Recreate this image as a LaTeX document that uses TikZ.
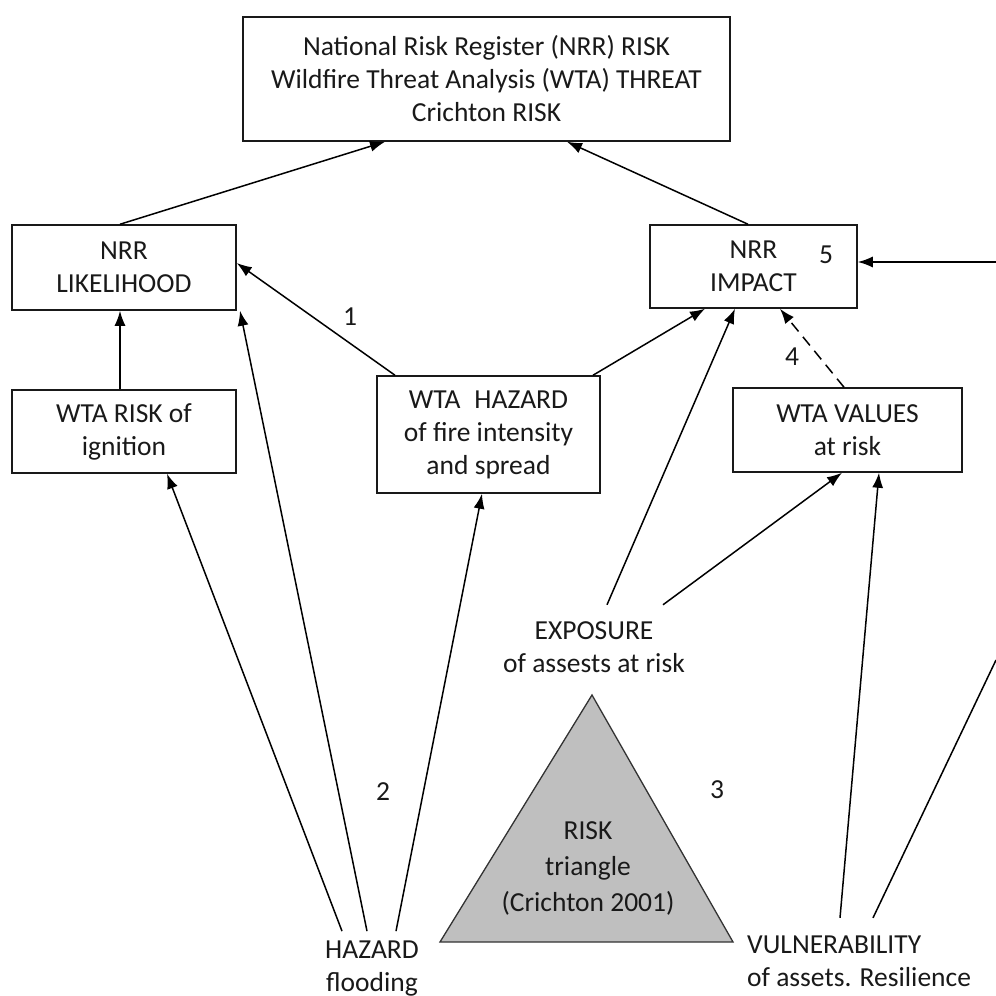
\documentclass[tikz,border=0pt]{standalone}
\usepackage{fontspec}
\setmainfont{Carlito}
\usetikzlibrary{arrows.meta}
\begin{document}
\begin{tikzpicture}[x=1pt,y=-1pt,
  box/.style={draw=black!90, line width=1.5pt, align=center, inner sep=0pt,
    font=\fontsize{27.5}{33}\selectfont, text=black!90},
  lbl/.style={align=center, inner xsep=0pt, inner ysep=0pt,
    font=\fontsize{27.5}{33}\selectfont, text=black!90},
  arr/.style={-{Latex[length=15pt,width=11pt]}, line width=1.5pt, draw=black},
  dasharr/.style={arr, dash pattern=on 11pt off 7pt},
  ln/.style={line width=1.5pt, draw=black}]
\useasboundingbox (0,0) rectangle (996,996);

% triangle
\filldraw[fill=black!25, draw=black!80, line width=1.3pt]
  (592,695) -- (733,942) -- (440,942) -- cycle;
\node[lbl, font=\fontsize{27.5}{36}\selectfont] (rt) at (588,868) {RISK\\triangle\\(Crichton 2001)};

% boxes
\node[box, minimum width=487pt, minimum height=124pt] (top) at (486.5,79)
  {National Risk Register (NRR) RISK\\Wildfire Threat Analysis (WTA) THREAT\\Crichton RISK};
\node[box, minimum width=224pt, minimum height=85pt] (lik) at (124,267.5) {NRR\\LIKELIHOOD};
\node[box, minimum width=224pt, minimum height=83pt] (ign) at (124,431.5) {WTA RISK of\\ignition};
\node[box, minimum width=223pt, minimum height=117pt] (whaz) at (488.5,434.5)
  {WTA\; HAZARD\\of fire intensity\\and spread};
\node[box, minimum width=207pt, minimum height=83pt] (imp) at (753.5,266.5) {NRR\\IMPACT};
\node[box, minimum width=229pt, minimum height=84pt] (val) at (847.5,430) {WTA VALUES\\at risk};

% free text nodes
\node[lbl, inner ysep=17pt] (exp) at (594,647.5) {EXPOSURE\\of assests at risk};
\node[lbl, inner ysep=10pt] (hzd) at (372,969) {HAZARD\\flooding};
\node[lbl, align=left, anchor=west, inner ysep=18pt] (vul) at (747,961.5)
  {VULNERABILITY\\of assets. Resilience};

% number labels
\node[lbl] (n1) at (350,317) {1};
\node[lbl] (n2) at (383,792) {2};
\node[lbl] (n3) at (717,790) {3};
\node[lbl] (n4) at (792,357) {4};
\node[lbl] (n5) at (826,255) {5};

% free ends at right edge
\coordinate (rmid) at (996,262);
\coordinate (rlow) at (996,660);

% connectors
\draw[arr] (lik.north -| 120,0) -- (top.south -| 385,0);
\draw[arr] (imp.north -| 748,0) -- (top.south -| 567,0);
\draw[arr] (ign.north -| 120,0) -- (lik.south -| 120,0);
\draw[arr] (whaz.north -| 395,0) -- (lik.east |- 0,263);
\draw[arr] (whaz.north -| 593,0) -- (imp.south -| 705,0);
\draw[arr] (exp.north -| 607,0) -- (imp.south -| 735,0);
\draw[arr] (exp.north -| 663,0) -- (val.south -| 842,0);
\draw[dasharr] (val.north -| 844,0) -- (imp.south -| 780,0);
\draw[arr] (vul.north -| 840,0) -- (val.south -| 879,0);
\draw[ln] (vul.north -| 873,0) -- (rlow);
\draw[arr] (rmid) -- (imp.east |- 0,262);
\draw[arr] (hzd.north -| 342,0) -- (ign.south -| 167,0);
\draw[arr] (hzd.north -| 367,0) -- (lik.south -| 240,0);
\draw[arr] (hzd.north -| 396,0) -- (whaz.south -| 482,0);
\end{tikzpicture}
\end{document}
